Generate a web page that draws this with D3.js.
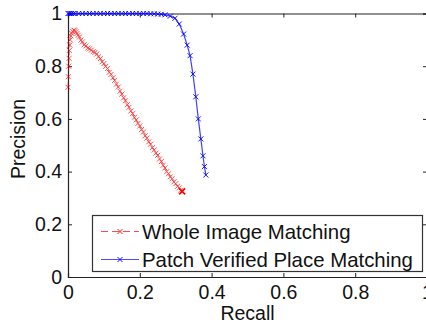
<!DOCTYPE html>
<html><head><meta charset="utf-8">
<script src="https://cdn.jsdelivr.net/npm/d3@7/dist/d3.min.js"></script>
<style>body{margin:0;background:#fff;} svg{display:block;font-family:"Liberation Sans",Arial,sans-serif;}</style>
</head><body>
<script>
const seriesNames = ["Whole Image Matching", "Patch Verified Place Matching"];
const xTicks = [0, 0.2, 0.4, 0.6, 0.8, 1];
const yTicks = [0, 0.2, 0.4, 0.6, 0.8, 1];
const xTickLabels = ["0", "0.2", "0.4", "0.6", "0.8", "1"];
const yTickLabels = ["0", "0.2", "0.4", "0.6", "0.8", "1"];
const wholeRecall = [0, 0.001, 0.002, 0.003, 0.004, 0.005, 0.006, 0.008, 0.010, 0.013, 0.016, 0.019, 0.022, 0.025, 0.028, 0.032, 0.036, 0.040, 0.045, 0.050, 0.055, 0.060, 0.065, 0.070, 0.075, 0.080, 0.085, 0.090, 0.095, 0.100, 0.105, 0.110, 0.115, 0.120, 0.125, 0.130, 0.135, 0.140, 0.145, 0.150, 0.155, 0.160, 0.165, 0.170, 0.175, 0.180, 0.185, 0.190, 0.195, 0.200, 0.205, 0.210, 0.215, 0.220, 0.225, 0.230, 0.235, 0.240, 0.245, 0.250, 0.255, 0.260, 0.265, 0.270, 0.275, 0.280, 0.285, 0.290, 0.295, 0.300, 0.305, 0.310, 0.315, 0.318];
const wholePrecision = [0.72, 0.76, 0.80, 0.83, 0.86, 0.88, 0.90, 0.915, 0.925, 0.932, 0.937, 0.935, 0.931, 0.924, 0.917, 0.911, 0.899, 0.892, 0.881, 0.877, 0.869, 0.866, 0.861, 0.855, 0.852, 0.846, 0.836, 0.829, 0.817, 0.810, 0.799, 0.791, 0.777, 0.769, 0.756, 0.746, 0.732, 0.721, 0.705, 0.694, 0.680, 0.669, 0.654, 0.644, 0.630, 0.620, 0.606, 0.596, 0.583, 0.573, 0.560, 0.550, 0.536, 0.527, 0.513, 0.504, 0.491, 0.482, 0.470, 0.462, 0.448, 0.438, 0.424, 0.414, 0.400, 0.392, 0.380, 0.373, 0.361, 0.354, 0.344, 0.338, 0.329, 0.325];
const patchRecall = [0, 0.003, 0.006, 0.01, 0.015, 0.02, 0.03, 0.04, 0.05, 0.06, 0.07, 0.08, 0.09, 0.10, 0.11, 0.12, 0.13, 0.14, 0.15, 0.16, 0.17, 0.18, 0.19, 0.20, 0.21, 0.22, 0.23, 0.24, 0.25, 0.26, 0.27, 0.285, 0.298, 0.31, 0.322, 0.332, 0.340, 0.348, 0.356, 0.363, 0.370, 0.376, 0.380, 0.384];
const patchPrecision = [1, 1, 1, 1, 1, 1, 1, 1, 1, 1, 1, 1, 1, 1, 1, 1, 1, 1, 1, 1, 1, 1, 1, 1, 1, 1, 0.999, 0.999, 0.998, 0.997, 0.995, 0.99, 0.982, 0.96, 0.922, 0.88, 0.84, 0.77, 0.684, 0.60, 0.524, 0.46, 0.419, 0.387];
const colors = ["#ff0000", "#0000ff"];

const W = 426, H = 324;
const svg = d3.select("body").append("svg").attr("width", W).attr("height", H);
svg.append("rect").attr("width", W).attr("height", H).attr("fill", "#fff");
const x = d3.scaleLinear().domain([0, 1]).range([68, 427]);
const y = d3.scaleLinear().domain([0, 1]).range([277, 13.5]);
const fs = 19.5;

const axB = svg.append("g").attr("transform", `translate(0,${y(0)})`)
  .call(d3.axisBottom(x).tickValues(xTicks).tickFormat((d,i)=>xTickLabels[i]).tickSize(-4).tickPadding(8));
const axL = svg.append("g").attr("transform", `translate(${x(0)},0)`)
  .call(d3.axisLeft(y).tickValues(yTicks).tickFormat((d,i)=>yTickLabels[i]).tickSize(-4).tickPadding(6));
const axT = svg.append("g").attr("transform", `translate(0,${y(1)})`)
  .call(d3.axisTop(x).tickValues(xTicks).tickFormat("").tickSize(-4));
const axR = svg.append("g").attr("transform", `translate(${x(1)},0)`)
  .call(d3.axisRight(y).tickValues(yTicks).tickFormat("").tickSize(-4));
[axB, axL, axT, axR].forEach(a => {
  a.selectAll("path").attr("stroke", "#222").attr("stroke-width", 1.2);
  a.selectAll("line").attr("stroke", "#222");
  a.selectAll("text").attr("font-size", fs).attr("fill", "#111").attr("font-family", '"Liberation Sans",Arial,sans-serif');
});

function xMark(sel, px, py, s, color, sw) {
  sel.append("path").attr("d", `M${px-s},${py-s}L${px+s},${py+s}M${px-s},${py+s}L${px+s},${py-s}`)
    .attr("stroke", color).attr("stroke-width", sw || 0.9).attr("fill", "none");
}

const wholeData = wholeRecall.map((r, i) => [r, wholePrecision[i]]);
const patchData = patchRecall.map((r, i) => [r, patchPrecision[i]]);
const line = d3.line().x(d => x(d[0])).y(d => y(d[1]));
const gRed = svg.append("g");
gRed.append("path").datum(wholeData).attr("d", line).attr("fill", "none")
  .attr("stroke", colors[0]).attr("stroke-width", 1).attr("stroke-dasharray", "5,3").attr("opacity", 0.8);
wholeData.forEach(d => xMark(gRed, x(d[0]), y(d[1]), 2.5, colors[0]));
gRed.attr("opacity", 0.75);
const last = wholeData[wholeData.length - 1];
xMark(svg, x(last[0]), y(last[1]), 3, colors[0], 1.6);

const gBlue = svg.append("g");
gBlue.append("path").datum(patchData).attr("d", line).attr("fill", "none")
  .attr("stroke", colors[1]).attr("stroke-width", 1.2).attr("opacity", 0.75);
patchData.forEach(d => xMark(gBlue, x(d[0]), y(d[1]), 2.5, colors[1]));

svg.append("text").attr("x", (x(0)+x(1))/2).attr("y", 320).attr("text-anchor", "middle")
  .attr("font-size", fs).attr("fill", "#111").text("Recall");
svg.append("text").attr("transform", `translate(25,139) rotate(-90)`).attr("text-anchor", "middle")
  .attr("font-size", fs).attr("fill", "#111").text("Precision");

const lg = svg.append("g");
lg.append("rect").attr("x", 92.5).attr("y", 215.5).attr("width", 330).attr("height", 56)
  .attr("fill", "#fff").attr("stroke", "#333").attr("stroke-width", 1.2);
const rows = [231.5, 259.5];
seriesNames.forEach((name, i) => {
  const ly = rows[i];
  lg.append("line").attr("x1", 101).attr("x2", 139).attr("y1", ly).attr("y2", ly)
    .attr("stroke", colors[i]).attr("stroke-width", 1.2)
    .attr("stroke-dasharray", i === 0 ? "7,4" : null).attr("opacity", 0.7);
  xMark(lg, 120, ly, 2.5, colors[i]);
  lg.append("text").attr("x", 142).attr("y", ly + 7).attr("font-size", 20.4).attr("fill", "#111").text(name);
});
</script>
</body></html>
